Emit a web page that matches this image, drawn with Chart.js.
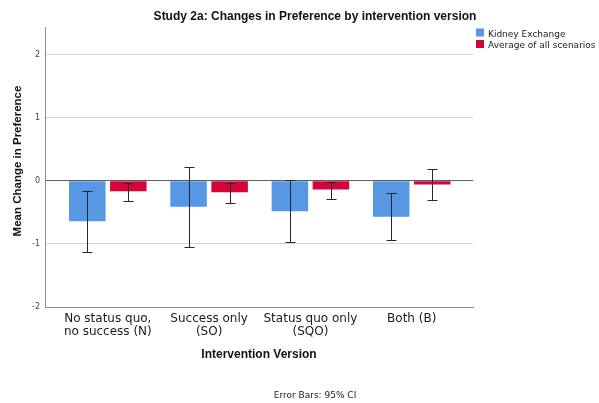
<!DOCTYPE html>
<html>
<head>
<meta charset="utf-8">
<script src="https://cdn.jsdelivr.net/npm/chart.js@4/dist/chart.umd.min.js"></script>
<style>
  html, body { margin: 0; padding: 0; background: #ffffff; }
  canvas { display: block; }
</style>
</head>
<body>
<canvas id="chart" width="599" height="403"></canvas>
<script>
// Intervention versions (x categories), one line per array entry
const categories = [
  ['No status quo,', 'no success (N)'],
  ['Success only', '(SO)'],
  ['Status quo only', '(SQO)'],
  ['Both (B)']
];
const seriesNames = ['Kidney Exchange', 'Average of all scenarios'];

// Mean change in preference and 95% CI bounds
const kidneyMeans = [-0.64, -0.41, -0.48, -0.57];
const kidneyLow   = [-1.12, -1.05, -0.965, -0.944];
const kidneyHigh  = [-0.153, 0.226, 0.01, -0.2];

const averageMeans = [-0.163, -0.179, -0.137, -0.058];
const averageLow   = [-0.316, -0.343, -0.28, -0.311];
const averageHigh  = [-0.026, -0.026, -0.016, 0.185];

const yTicks = [-2, -1, 0, 1, 2];

const chartTitle = 'Study 2a: Changes in Preference by intervention version';
const xTitle = 'Intervention Version';
const yTitle = 'Mean Change in Preference';
const footNote = 'Error Bars: 95% CI';

const colors = ['#5797e4', '#d5053c'];
const ciBounds = [[kidneyLow, kidneyHigh], [averageLow, averageHigh]];

const BOLD = '"Liberation Sans", Arial, sans-serif';
const REG = '"DejaVu Sans", Verdana, sans-serif';

// Error bars with caps, placed on each bar through the value scale
const errorBars = {
  id: 'errorBars',
  afterDatasetsDraw(chart) {
    const ctx = chart.ctx;
    const y = chart.scales.y;
    ctx.save();
    ctx.strokeStyle = '#262626';
    ctx.lineWidth = 1;
    chart.data.datasets.forEach((ds, i) => {
      const meta = chart.getDatasetMeta(i);
      const [low, high] = ciBounds[i];
      meta.data.forEach((bar, j) => {
        const x = Math.round(bar.x) + 0.5;
        const y1 = Math.round(y.getPixelForValue(low[j])) + 0.5;
        const y2 = Math.round(y.getPixelForValue(high[j])) + 0.5;
        const cap = 5;
        ctx.beginPath();
        ctx.moveTo(x, y1); ctx.lineTo(x, y2);
        ctx.moveTo(x - cap, y1); ctx.lineTo(x + cap, y1);
        ctx.moveTo(x - cap, y2); ctx.lineTo(x + cap, y2);
        ctx.stroke();
      });
    });
    ctx.restore();
  }
};

// Title, axis titles, legend and footnote
const annotations = {
  id: 'annotations',
  afterDraw(chart) {
    const ctx = chart.ctx;
    const area = chart.chartArea;
    ctx.save();
    ctx.fillStyle = '#111';
    ctx.textBaseline = 'alphabetic';

    ctx.font = 'bold 12px ' + BOLD;
    ctx.textAlign = 'center';
    ctx.fillText(chartTitle, 315, 20);

    ctx.fillText(xTitle, (area.left + area.right) / 2, 358);

    ctx.save();
    ctx.translate(20.5, 161);
    ctx.rotate(-Math.PI / 2);
    ctx.font = 'bold 11.5px ' + BOLD;
    ctx.fillText(yTitle, 0, 0);
    ctx.restore();

    // legend
    ctx.font = '9px ' + REG;
    ctx.textAlign = 'left';
    seriesNames.forEach((name, i) => {
      const top = 28.5 + i * 11.5;
      ctx.fillStyle = colors[i];
      ctx.fillRect(476, top, 8, 8);
      ctx.fillStyle = '#222';
      ctx.fillText(name, 488, top + 8);
    });

    ctx.font = '9px ' + REG;
    ctx.textAlign = 'center';
    ctx.fillStyle = '#222';
    ctx.fillText(footNote, 315, 398);
    ctx.restore();
  }
};

new Chart(document.getElementById('chart'), {
  type: 'bar',
  data: {
    datasets: [
      {
        label: seriesNames[0],
        data: kidneyMeans.map((v, i) => ({ x: i, y: v })),
        backgroundColor: colors[0]
      },
      {
        label: seriesNames[1],
        data: averageMeans.map((v, i) => ({ x: i, y: v })),
        backgroundColor: colors[1]
      }
    ]
  },
  options: {
    responsive: false,
    animation: false,
    devicePixelRatio: 1,
    categoryPercentage: 0.81,
    barPercentage: 0.89,
    layout: { padding: { top: 27, right: 126, left: 0, bottom: 0 } },
    plugins: {
      legend: { display: false },
      title: { display: false },
      tooltip: { enabled: false }
    },
    scales: {
      x: {
        type: 'linear',
        offset: false,
        min: -0.62,
        max: 3.605,
        afterFit(scale) { scale.height = 96; },
        afterBuildTicks(scale) {
          scale.ticks = categories.map((c, i) => ({ value: i }));
        },
        grid: { display: false, drawTicks: false },
        border: { display: true, color: '#8c8c8c', width: 1 },
        ticks: {
          padding: 6,
          maxRotation: 0,
          autoSkip: false,
          color: '#1a1a1a',
          font: { family: REG, size: 12, lineHeight: 1.05 },
          callback: (v) => categories[v] || ''
        }
      },
      y: {
        min: -2,
        max: 2.44,
        afterFit(scale) { scale.width = 45; },
        afterBuildTicks(scale) {
          scale.ticks = yTicks.map(v => ({ value: v }));
        },
        grid: {
          drawTicks: false,
          color: (c) => (c.tick && c.tick.value === 0 ? '#5e5e5e' : '#d4d4d4'),
          lineWidth: 1
        },
        border: { display: true, color: '#8c8c8c', width: 1 },
        ticks: {
          padding: 5,
          color: '#444',
          font: { family: REG, size: 8 }
        }
      }
    }
  },
  plugins: [errorBars, annotations]
});
</script>
</body>
</html>
